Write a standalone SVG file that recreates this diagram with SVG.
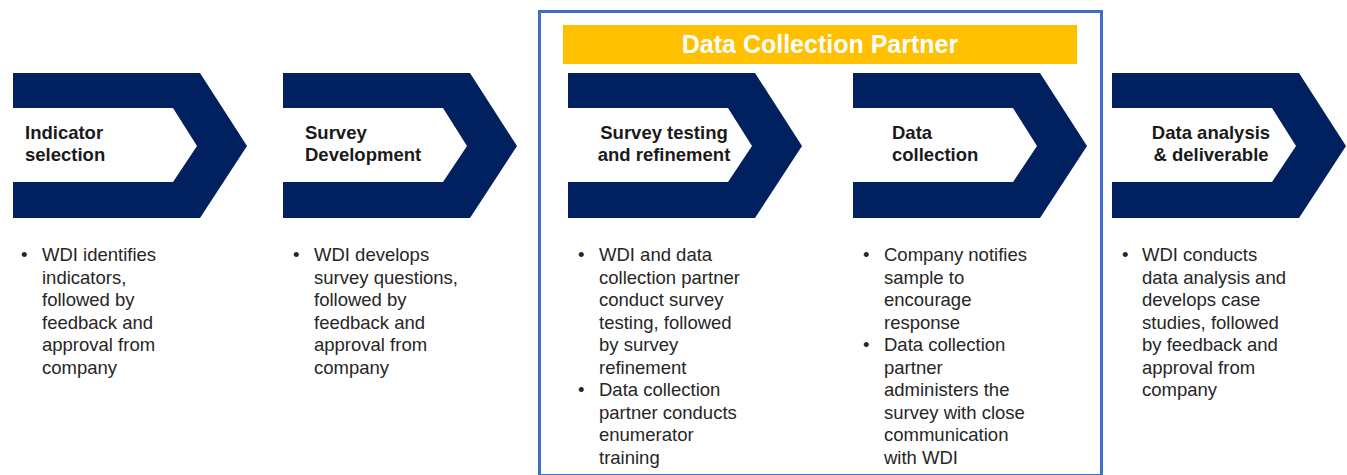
<svg xmlns="http://www.w3.org/2000/svg" width="1347" height="475" viewBox="0 0 1347 475">
  <defs>
    <style>
      .chev { fill: #002060; }
      .label { font-family: "Liberation Sans", Arial, sans-serif; font-weight: bold; font-size: 18.5px; fill: #1a1a1a; }
      .body { font-family: "Liberation Sans", Arial, sans-serif; font-size: 18.5px; fill: #262626; }
      .title { font-family: "Liberation Sans", Arial, sans-serif; font-weight: bold; font-size: 25px; fill: #ffffff; }
    </style>
    <!-- hollow chevron: navy outline with a white notch in the middle -->
    <path id="chevron" d="M0,0 H187 L234,73 L187,145 H0 V109 H160 L184,73 L160,35 H0 Z"/>
  </defs>

  <rect width="1347" height="475" fill="#ffffff"/>

  <!-- partner frame -->
  <g id="partner-frame">
    <rect x="539.5" y="11.5" width="562" height="464" fill="none" stroke="#3F6EC2" stroke-width="3"/>
    <rect x="563" y="25" width="514" height="39" fill="#FFC000"/>
    <text class="title" x="820" y="53" text-anchor="middle">Data Collection Partner</text>
  </g>

  <g id="connectors"></g>

  <g id="step-indicator">
    <use href="#chevron" class="chev" x="13" y="73"/>
    <text class="label" x="25" y="139">Indicator</text>
    <text class="label" x="25" y="161">selection</text>
    <text class="body" x="21" y="261">•</text>
    <text class="body" x="42" y="261">WDI identifies</text>
    <text class="body" x="42" y="283.5">indicators,</text>
    <text class="body" x="42" y="306">followed by</text>
    <text class="body" x="42" y="328.5">feedback and</text>
    <text class="body" x="42" y="351">approval from</text>
    <text class="body" x="42" y="373.5">company</text>
  </g>

  <g id="step-survey-development">
    <use href="#chevron" class="chev" x="283" y="73"/>
    <text class="label" x="305" y="139">Survey</text>
    <text class="label" x="305" y="161">Development</text>
    <text class="body" x="293" y="261">•</text>
    <text class="body" x="314" y="261">WDI develops</text>
    <text class="body" x="314" y="283.5">survey questions,</text>
    <text class="body" x="314" y="306">followed by</text>
    <text class="body" x="314" y="328.5">feedback and</text>
    <text class="body" x="314" y="351">approval from</text>
    <text class="body" x="314" y="373.5">company</text>
  </g>

  <g id="step-survey-testing">
    <use href="#chevron" class="chev" x="568" y="73"/>
    <text class="label" x="664" y="139" text-anchor="middle">Survey testing</text>
    <text class="label" x="664" y="161" text-anchor="middle">and refinement</text>
    <text class="body" x="578" y="261">•</text>
    <text class="body" x="599" y="261">WDI and data</text>
    <text class="body" x="599" y="283.5">collection partner</text>
    <text class="body" x="599" y="306">conduct survey</text>
    <text class="body" x="599" y="328.5">testing, followed</text>
    <text class="body" x="599" y="351">by survey</text>
    <text class="body" x="599" y="373.5">refinement</text>
    <text class="body" x="578" y="396">•</text>
    <text class="body" x="599" y="396">Data collection</text>
    <text class="body" x="599" y="418.5">partner conducts</text>
    <text class="body" x="599" y="441">enumerator</text>
    <text class="body" x="599" y="463.5">training</text>
  </g>

  <g id="step-data-collection">
    <use href="#chevron" class="chev" x="853" y="73"/>
    <text class="label" x="892" y="139">Data</text>
    <text class="label" x="892" y="161">collection</text>
    <text class="body" x="863" y="261">•</text>
    <text class="body" x="884" y="261">Company notifies</text>
    <text class="body" x="884" y="283.5">sample to</text>
    <text class="body" x="884" y="306">encourage</text>
    <text class="body" x="884" y="328.5">response</text>
    <text class="body" x="863" y="351">•</text>
    <text class="body" x="884" y="351">Data collection</text>
    <text class="body" x="884" y="373.5">partner</text>
    <text class="body" x="884" y="396">administers the</text>
    <text class="body" x="884" y="418.5">survey with close</text>
    <text class="body" x="884" y="441">communication</text>
    <text class="body" x="884" y="463.5">with WDI</text>
  </g>

  <g id="step-data-analysis">
    <use href="#chevron" class="chev" x="1112" y="73"/>
    <text class="label" x="1211" y="139" text-anchor="middle">Data analysis</text>
    <text class="label" x="1211" y="161" text-anchor="middle">&amp; deliverable</text>
    <text class="body" x="1122" y="261">•</text>
    <text class="body" x="1142" y="261">WDI conducts</text>
    <text class="body" x="1142" y="283.5">data analysis and</text>
    <text class="body" x="1142" y="306">develops case</text>
    <text class="body" x="1142" y="328.5">studies, followed</text>
    <text class="body" x="1142" y="351">by feedback and</text>
    <text class="body" x="1142" y="373.5">approval from</text>
    <text class="body" x="1142" y="396">company</text>
  </g>
</svg>
